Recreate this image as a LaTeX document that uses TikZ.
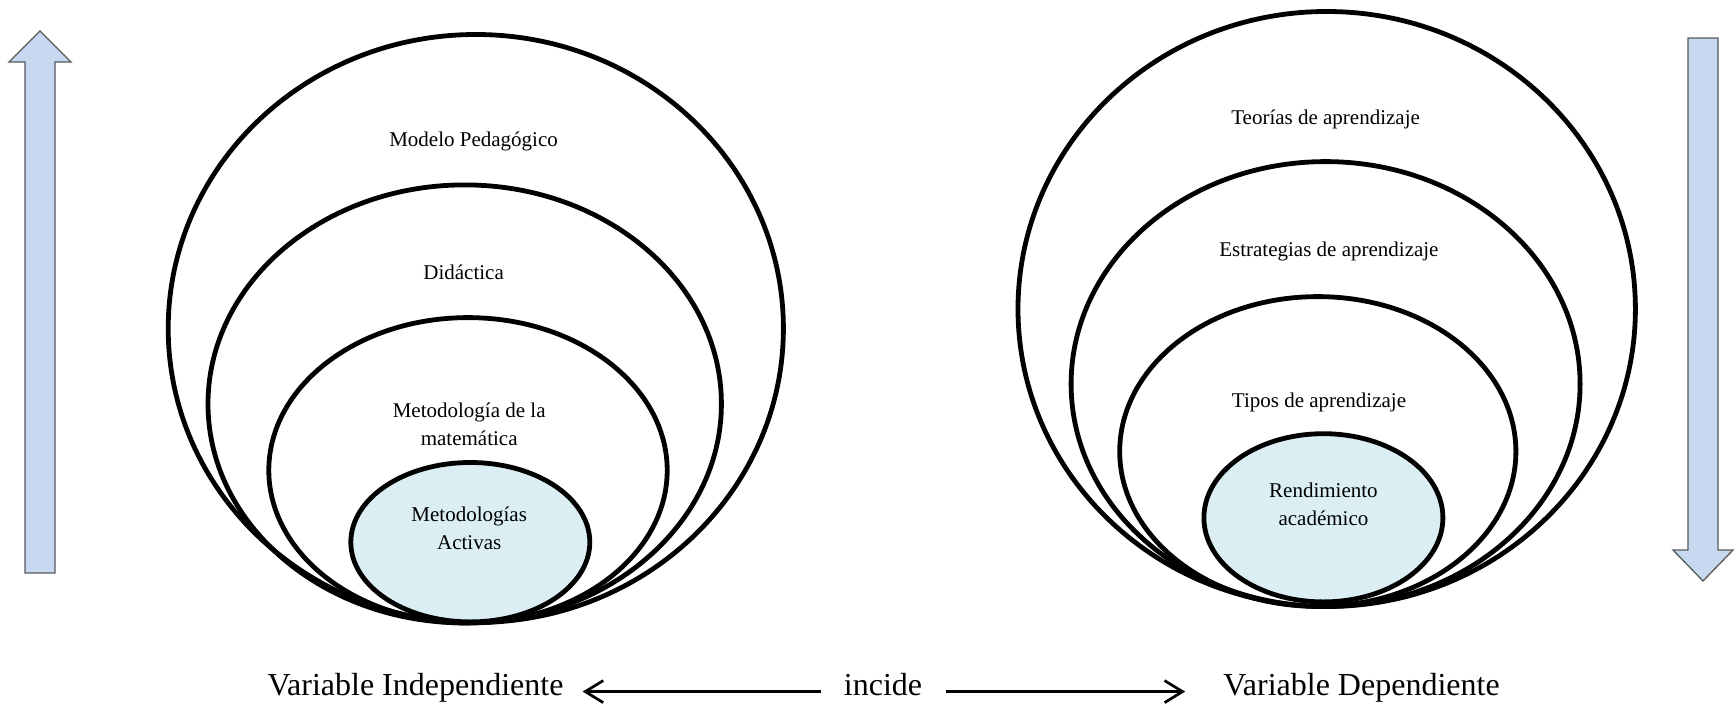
\documentclass[tikz,border=0pt]{standalone}
\usepackage{fontspec}
\setmainfont{Liberation Serif}
\usetikzlibrary{arrows.meta}
\definecolor{blockblue}{HTML}{C6D9F1}
\definecolor{innerblue}{HTML}{DAEEF3}
\tikzset{
  ring/.style={line width=4.8pt, draw=black},
  core/.style={line width=4.8pt, draw=black, fill=innerblue},
  lbl/.style={font=\fontsize{21}{28}\selectfont, align=center, inner sep=0pt},
  varlbl/.style={font=\fontsize{32}{36}\selectfont, inner sep=0pt, anchor=base},
  blockarrow/.style={fill=blockblue, draw=black!65, line width=1.3pt, line join=miter},
  relarrow/.style={line width=2.7pt, -{Straight Barb[length=18pt,width=22pt,line width=2.7pt]}}
}
\begin{document}
\begin{tikzpicture}[x=1pt,y=-1pt]
\useasboundingbox (0,0) rectangle (1735,704);
% block arrows
\draw[blockarrow] (40,31) -- (71,62) -- (55,62) -- (55,573) -- (25,573) -- (25,62) -- (9,62) -- cycle;
\draw[blockarrow] (1703,581) -- (1733,550) -- (1718,550) -- (1718,38) -- (1688,38) -- (1688,550) -- (1673,550) -- cycle;
% left nested ellipses
\draw[ring] (475.8,328.5) ellipse [x radius=307.6, y radius=294];
\draw[ring] (464.7,403.9) ellipse [x radius=256.7, y radius=219];
\draw[ring] (468.0,470.3) ellipse [x radius=199.2, y radius=152.7];
\draw[core] (470.3,542.2) ellipse [x radius=119.5, y radius=79.7];
% right nested ellipses
\draw[ring] (1326.7,309) ellipse [x radius=308.7, y radius=297.5];
\draw[ring] (1325.6,384.0) ellipse [x radius=254.5, y radius=222.4];
\draw[ring] (1317.8,451.5) ellipse [x radius=198.1, y radius=154.9];
\draw[core] (1323.4,517.8) ellipse [x radius=119.5, y radius=84.1];
% labels
\node[lbl] (mp) at (473.6,141.6) {Modelo Pedagógico};
\node[lbl] (di) at (463.6,272.2) {Didáctica};
\node[lbl] (mm) at (469.2,423.9) {Metodología de la\\matemática};
\node[lbl] (ma) at (469.2,528) {Metodologías\\Activas};
\node[lbl] (ta) at (1325.6,119.5) {Teorías de aprendizaje};
\node[lbl] (ea) at (1328.9,251.2) {Estrategias de aprendizaje};
\node[lbl] (tp) at (1319,402.8) {Tipos de aprendizaje};
\node[lbl] (ra) at (1323.4,504) {Rendimiento\\académico};
% bottom
\node[varlbl] (vi) at (415.5,695) {Variable Independiente};
\node[varlbl] (inc) at (883,695) {incide};
\node[varlbl] (vd) at (1361.5,695) {Variable Dependiente};
\coordinate (la) at (821,691.6);
\coordinate (ra0) at (946,691.6);
\draw[relarrow] (la) -- ([xshift=19pt]vi.east |- la);
\draw[relarrow] (ra0) -- ([xshift=-38pt]vd.west |- ra0);
\end{tikzpicture}
\end{document}
